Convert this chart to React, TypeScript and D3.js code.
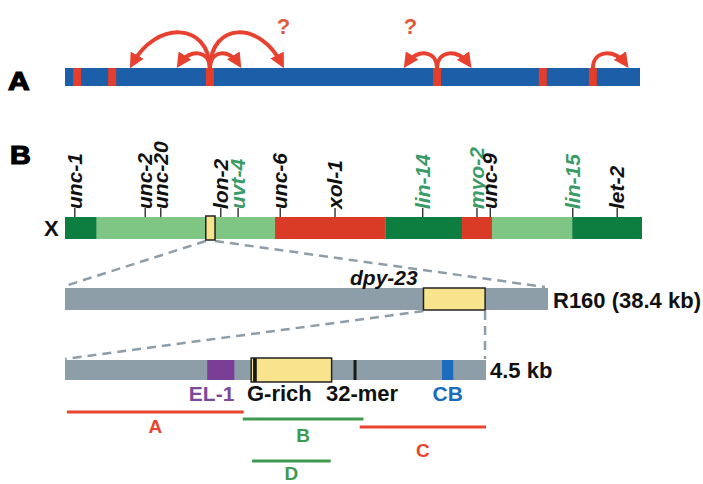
import React from "react";
import * as d3 from "d3";

// ---------- Panel A data (units: % of chromosome length) ----------
const aMarkers = [2.1, 8.2, 25.2, 64.7, 83.1, 91.8];
const aArcFrom = [25.2, 25.2, 25.2, 25.2, 64.7, 64.7, 91.8];
const aArcTo = [11.8, 37.6, 20.0, 30.1, 59.5, 70.1, 97.4];
const aArcHeight = [35, 35, 14, 14, 14, 14, 14];
const aQuestion = [38.0, 60.1];

// ---------- Panel B chromosome data ----------
const chrBounds = [0, 5.5, 36.4, 55.6, 68.8, 74.0, 87.9, 100];
const chrKinds = ["dark", "light", "red", "dark", "red", "light", "dark"];
const geneNames = ["unc-1", "unc-2", "unc-20", "lon-2", "uvt-4", "unc-6", "xol-1", "lin-14", "myo-2", "unc-9", "lin-15", "let-2"];
const genePos = [1.7, 13.9, 16.6, 27.0, 30.0, 37.3, 46.8, 62.0, 71.4, 73.7, 88.0, 95.7];
const geneGreen = [false, false, false, false, true, false, false, true, true, false, true, false];
const chrBox = [24.4, 26.0];

// ---------- R160 cosmid (kb) ----------
const r160Length = 38.4;
const dpyBox = [28.5, 33.4];

// ---------- 4.5 kb fragment (kb) ----------
const fragLength = 4.5;
const el1 = [1.52, 1.81];
const gRich = [1.99, 2.85];
const gRichBand = [2.01, 2.05];
const mer32 = 3.1;
const cb = [4.03, 4.15];
const rangeNames = ["A", "B", "C", "D"];
const rangeStart = [0.02, 1.9, 3.15, 2.0];
const rangeEnd = [1.91, 3.19, 4.5, 2.84];
const rangeRed = [true, false, true, false];

const FONT = "'Liberation Sans', Arial, Helvetica, sans-serif";
const BLUE = "#1c5ea8";
const RED = "#e33d2b";
const ARC = "#e8412f";
const DARKG = "#0e7d40";
const LIGHTG = "#7fc583";
const CHRRED = "#d93b27";
const GENEG = "#3a9b68";
const GRAY = "#8d9ea8";
const DASH = "#8e9ea9";
const YELLOW = "#f8e48c";
const LRED = "#e8452f";
const LGREEN = "#3d9a4f";

export default function App() {
  const xa = d3.scaleLinear().domain([0, 100]).range([65, 640]);
  const xc = d3.scaleLinear().domain([0, 100]).range([65, 642]);
  const xr = d3.scaleLinear().domain([0, r160Length]).range([65, 548]);
  const xf = d3.scaleLinear().domain([0, fragLength]).range([65, 486]);

  const aY0 = 68;
  const arcPath = (i: number) => {
    const x0 = xa(aArcFrom[i]);
    const x1 = xa(aArcTo[i]);
    const dx = x1 - x0;
    const top = aY0 - aArcHeight[i] / 0.75;
    const p = d3.path();
    p.moveTo(x0, aY0);
    p.bezierCurveTo(x0 + dx * 0.02, top, x1 - dx * 0.3, top, x1, aY0 - 5);
    return p.toString();
  };

  const kindColor: Record<string, string> = { dark: DARKG, light: LIGHTG, red: CHRRED };

  const chrTop = 217;
  const chrH = 22;
  const rTop = 288;
  const rH = 22;
  const fTop = 360;
  const fH = 20;
  const rangeY = [412, 419, 427, 461];
  const rangeLabelY = [433, 442, 457, 480];

  return (
    <svg
      width={703}
      height={484}
      style={{ position: "absolute", left: 0, top: 0, background: "#fff" }}
      fontFamily={FONT}
    >
      <defs>
        <marker id="ah" viewBox="0 0 10 10" refX="6" refY="5" markerWidth="15" markerHeight="15" markerUnits="userSpaceOnUse" orient="auto">
          <path d="M0,0 L10,5 L0,10 z" fill={ARC} />
        </marker>
      </defs>

      {/* Panel A */}
      <text x={0} y={0} fontSize={25} fontWeight="bold" stroke="#000" strokeWidth={1.2} transform="translate(8,90) scale(1.2,1)">
        A
      </text>
      <rect x={xa(0)} y={aY0} width={xa(100) - xa(0)} height={18} fill={BLUE} />
      {aMarkers.map((m, i) => (
        <rect key={i} x={xa(m) - 4} y={aY0} width={8} height={18} fill={RED} />
      ))}
      {aArcFrom.map((_, i) => (
        <path key={i} d={arcPath(i)} fill="none" stroke={ARC} strokeWidth={4} markerEnd="url(#ah)" />
      ))}
      {aQuestion.map((q, i) => (
        <text key={i} x={xa(q)} y={34} textAnchor="middle" fontSize={22} fontWeight="bold" fill="#e05a40">
          ?
        </text>
      ))}

      {/* Panel B */}
      <text x={0} y={0} fontSize={25} fontWeight="bold" stroke="#000" strokeWidth={1.2} transform="translate(10,164) scale(1.15,1)">
        B
      </text>
      <text x={44} y={236} fontSize={22} fontWeight="bold" fill="#111">
        X
      </text>
      {chrKinds.map((k, i) => (
        <rect key={i} x={xc(chrBounds[i])} y={chrTop} width={xc(chrBounds[i + 1]) - xc(chrBounds[i])} height={chrH} fill={kindColor[k]} />
      ))}
      {geneNames.map((g, i) => (
        <g key={g}>
          <line x1={xc(genePos[i])} x2={xc(genePos[i])} y1={chrTop} y2={chrTop - 9} stroke="#222" strokeWidth={1.3} />
          <text
            transform={`translate(${xc(genePos[i]) + 7},${chrTop - 8}) rotate(-90)`}
            fontSize={21}
            fontWeight="bold"
            fontStyle="italic"
            fill={geneGreen[i] ? GENEG : "#111"}
          >
            {g}
          </text>
        </g>
      ))}

      {/* dashed zoom lines */}
      <g stroke={DASH} strokeWidth={2.5} strokeDasharray="9 6" fill="none">
        <line x1={xc(chrBox[0])} y1={chrTop + chrH + 2} x2={xr(0)} y2={rTop - 2} />
        <line x1={xc(chrBox[1])} y1={chrTop + chrH + 2} x2={xr(r160Length) - 3} y2={rTop - 1} />
        <line x1={xr(dpyBox[0])} y1={rTop + rH + 1} x2={xf(0)} y2={fTop - 1} />
        <line x1={xr(dpyBox[1])} y1={rTop + rH + 1} x2={xf(fragLength) - 1} y2={fTop - 1} />
      </g>
      <rect
        x={xc(chrBox[0])}
        y={chrTop - 1}
        width={xc(chrBox[1]) - xc(chrBox[0])}
        height={chrH + 2}
        fill={YELLOW}
        stroke="#222"
        strokeWidth={1.5}
      />

      {/* R160 */}
      <rect x={xr(0)} y={rTop} width={xr(r160Length) - xr(0)} height={rH} fill={GRAY} />
      <rect x={xr(dpyBox[0])} y={rTop} width={xr(dpyBox[1]) - xr(dpyBox[0])} height={rH} fill={YELLOW} stroke="#222" strokeWidth={1.5} />
      <text x={350} y={285} fontSize={21} fontWeight="bold" fontStyle="italic" fill="#111">
        dpy-23
      </text>
      <text x={553} y={308} fontSize={22} fontWeight="bold" fill="#111">
        R160 (38.4 kb)
      </text>

      {/* 4.5 kb fragment */}
      <rect x={xf(0)} y={fTop} width={xf(fragLength) - xf(0)} height={fH} fill={GRAY} />
      <rect x={xf(el1[0])} y={fTop} width={xf(el1[1]) - xf(el1[0])} height={fH} fill="#7a3e96" />
      <rect x={xf(gRich[0])} y={fTop - 2} width={xf(gRich[1]) - xf(gRich[0])} height={fH + 4} fill={YELLOW} stroke="#222" strokeWidth={1.5} />
      <rect x={xf(gRichBand[0])} y={fTop - 2} width={xf(gRichBand[1]) - xf(gRichBand[0])} height={fH + 4} fill="#1a1a1a" />
      <rect x={xf(mer32) - 1.5} y={fTop} width={3} height={fH} fill="#1a1a1a" />
      <rect x={xf(cb[0])} y={fTop} width={xf(cb[1]) - xf(cb[0])} height={fH} fill="#1b6cbd" />
      <text x={490} y={378} fontSize={22} fontWeight="bold" fill="#111">
        4.5 kb
      </text>
      <text x={xf(el1[1])} y={401} textAnchor="end" fontSize={21} fontWeight="bold" fill="#7a4a9c">
        EL-1
      </text>
      <text x={247} y={401} fontSize={22} fontWeight="bold" fill="#111">
        G-rich
      </text>
      <text x={326} y={401} fontSize={22} fontWeight="bold" fill="#111">
        32-mer
      </text>
      <text x={xf((cb[0] + cb[1]) / 2)} y={401} textAnchor="middle" fontSize={21} fontWeight="bold" fill="#1b6cbd">
        CB
      </text>

      {rangeNames.map((n, i) => {
        const c = rangeRed[i] ? LRED : LGREEN;
        const x0 = xf(rangeStart[i]);
        const x1 = xf(rangeEnd[i]);
        return (
          <g key={n}>
            <line x1={x0} x2={x1} y1={rangeY[i]} y2={rangeY[i]} stroke={c} strokeWidth={3} />
            <text x={(x0 + x1) / 2} y={rangeLabelY[i]} textAnchor="middle" fontSize={19} fontWeight="bold" fill={c}>
              {n}
            </text>
          </g>
        );
      })}
    </svg>
  );
}
